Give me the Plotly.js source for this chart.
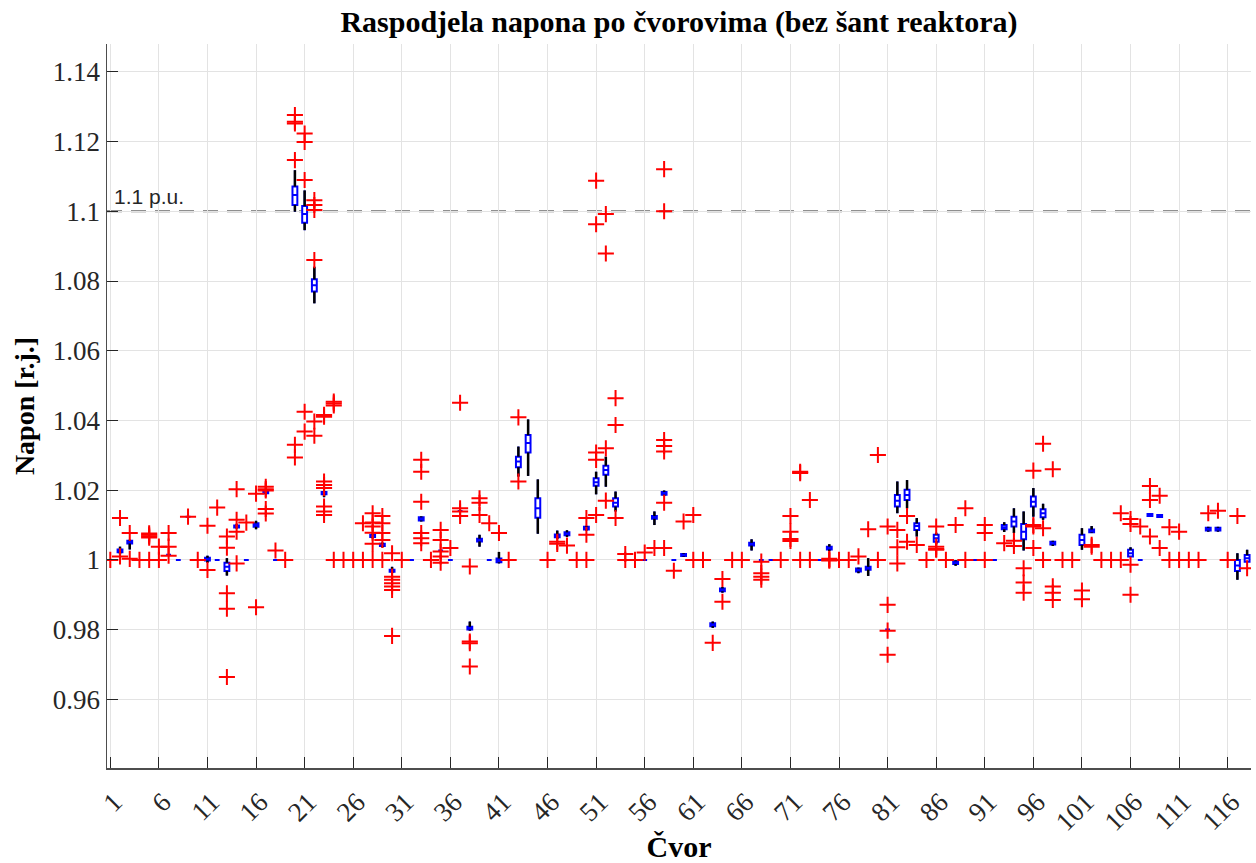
<!DOCTYPE html>
<html><head><meta charset="utf-8">
<script src="https://cdn.plot.ly/plotly-3.0.1.min.js"></script>
<style>html,body{margin:0;padding:0;background:#fff}</style>
</head><body><div id="chart" style="width:1256px;height:863px"></div>
<script>
const nodes = [1,2,3,4,5,6,7,8,9,10,11,12,13,14,15,16,17,18,19,20,21,22,23,24,25,26,27,28,29,30,31,32,33,34,35,36,37,38,39,40,41,42,43,44,45,46,47,48,49,50,51,52,53,54,55,56,57,58,59,60,61,62,63,64,65,66,67,68,69,70,71,72,73,74,75,76,77,78,79,80,81,82,83,84,85,86,87,88,89,90,91,92,93,94,95,96,97,98,99,100,101,102,103,104,105,106,107,108,109,110,111,112,113,114,115,116,117,118];

const q1 = [1,1.0022,1.0047,1,1,1,1.0015,1,1.0124,1,
0.9998,1,0.9968,1.0093,1,1.0095,1.0191,1,1,1.1018,
1.0967,1.077,1.0188,1,1,1,1,1.0066,1.004,0.9966,
1,1,1.0113,1,1.0027,1,1.014,0.98,1.0053,1,
0.9993,1,1.0266,1.0308,1.0121,1,1.0065,1.0071,1,1.0087,
1.0213,1.0244,1.0153,1,1,1,1.0118,1.0187,1,1.0011,
1,1,0.981,0.991,1,1,1.0041,1,1,1,
1.0057,1,1,1,1.003,1,1,0.9967,0.9972,1,
0.98,1.0153,1.0172,1.0086,1,1.0052,1,0.9988,1,1,
1,1,1.0088,1.0096,1.0059,1.0153,1.0122,1.0044,1,1,
1.0043,1.0079,1,1,1,1.001,1,1.0126,1.0123,1,
1,1,1,1.0084,1.0084,1,0.9968,0.9995];

const median = [1,1.0026,1.0051,1,1,1,1.0015,1,1.0124,1,
1.0002,1,0.998,1.0096,1,1.01,1.0194,1,1,1.1047,
1.0992,1.0788,1.0191,1,1,1,1,1.0069,1.0043,0.9969,
1,1,1.0118,1,1.0027,1,1.014,0.9804,1.0057,1,
0.9998,1,1.0282,1.0335,1.0148,1,1.0069,1.0075,1,1.0091,
1.0223,1.0258,1.0164,1,1,1,1.0122,1.0191,1,1.0014,
1,1,0.9814,0.9914,1,1,1.0045,1,1,1,
1.0057,1,1,1,1.0034,1,1,0.9971,0.9976,1,
0.98,1.017,1.0186,1.0097,1,1.0062,1,0.9992,1,1,
1,1,1.0094,1.011,1.0081,1.0167,1.0134,1.0048,1,1,
1.0057,1.0083,1,1,1,1.0019,1,1.0129,1.0126,1,
1,1,1,1.0088,1.0088,1,0.9984,1.0005];

const q3 = [1,1.003,1.0055,1,1,1,1.0015,1,1.0124,1,
1.0006,1,0.9992,1.0099,1,1.0105,1.0197,1,1,1.1071,
1.1015,1.0805,1.0195,1,1,1,1,1.0072,1.0046,0.9972,
1,1,1.0122,1,1.0027,1,1.014,0.9808,1.0061,1,
1.0004,1,1.0296,1.0358,1.0177,1,1.0073,1.0079,1,1.0095,
1.0234,1.027,1.0177,1,1,1,1.0126,1.0195,1,1.0017,
1,1,0.9818,0.9918,1,1,1.0049,1,1,1,
1.0057,1,1,1,1.0038,1,1,0.9975,0.998,1,
0.98,1.0186,1.0201,1.0105,1,1.0072,1,0.9996,1,1,
1,1,1.01,1.0124,1.0103,1.0182,1.0145,1.0052,1,1,
1.0072,1.0087,1,1,1,1.0029,1,1.0132,1.0129,1,
1,1,1,1.0092,1.0092,1,1.0,1.0014];

const whiskerLow = [1,1.0016,1.003,1,1,1,1.0015,1,1.0124,1,
0.9992,1,0.9955,1.009,1,1.0088,1.0188,1,1,1.0999,
1.0946,1.0736,1.018,1,1,1,1,1.0062,1.0036,0.9962,
1,1,1.011,1,1.0027,1,1.014,0.9797,1.0038,1,
0.999,1,1.0239,1.0241,1.0075,1,1.006,1.0066,1,1.0084,
1.0188,1.021,1.0139,1,1,1,1.01,1.0183,1,1.0009,
1,1,0.9805,0.9906,1,1,1.0027,1,1,1,
1.0057,1,1,1,1.0025,1,1,0.9962,0.9954,1,
0.98,1.0134,1.0148,1.0067,1,1.0045,1,0.9983,1,1,
1,1,1.008,1.0077,1.0027,1.0124,1.0115,1.004,1,1,
1.0029,1.0077,1,1,1,1.001,1,1.0126,1.0123,1,
1,1,1,1.0081,1.0081,1,0.9943,0.9995];

const whiskerHigh = [1,1.0038,1.0058,1,1,1,1.0015,1,1.0124,1,
1.0012,1,1.0005,1.0102,1,1.0112,1.02,1,1,1.1118,
1.106,1.0841,1.0198,1,1,1,1,1.0076,1.005,0.998,
1,1,1.0125,1,1.0027,1,1.014,0.9823,1.0072,1,
1.0023,1,1.0325,1.0403,1.0231,1,1.0084,1.0085,1,1.0098,
1.0253,1.0296,1.0196,1,1,1,1.0139,1.0199,1,1.0019,
1,1,0.9823,0.9922,1,1,1.0059,1,1,1,
1.0057,1,1,1,1.0045,1,1,0.9978,1.0005,1,
0.98,1.0225,1.0229,1.012,1,1.0078,1,0.9999,1,1,
1,1,1.0108,1.0148,1.0139,1.0206,1.0161,1.0055,1,1,
1.0091,1.0097,1,1,1,1.0036,1,1.0132,1.0129,1,
1,1,1,1.0095,1.0095,1,1.0019,1.0029];

const outliers = [
[1.0],[1.012,1.001],[1.0077,1.0003],[1.0],[1.0076,1.0072,1.0068,1.0064,1.0],
[1.0038,1.0],[1.0077,1.0038,1.0012],[],[1.0124],[1.0],
[1.0098,0.9971],[1.015],[1.0067,1.0035,0.9904,0.986,0.9664],[1.0203,1.0115,1.0081,0.999],[1.0107],
[1.019,0.9864],[1.021,1.0203,1.0199,1.0146,1.0133],[1.0027],[1.0],[1.1276,1.1257,1.1252,1.1147,1.033,1.0294],
[1.1223,1.1199,1.109,1.0425,1.0368],[1.1032,1.1018,1.1004,1.086,1.0397,1.0356],[1.0416,1.0411,1.0225,1.0215,1.0206,1.0153,1.0139,1.0129],[1.0454,1.0449,1.0443,1.0],[1.0],
[1.0],[1.0105,1.0],[1.0134,1.0107,1.0096,1.0078,1.0046,1.0],[1.0126,1.0105,1.0077,1.0057,1.0],[1.0019,0.9952,0.9943,0.9933,0.9924,0.9914,0.9782],
[1.0],[],[1.0287,1.0253,1.0167,1.0077,1.0062,1.0048],[1.0],[1.0086,1.0057,1.0024,1.001,0.9992],
[1.0034],[1.0451,1.0148,1.0139,1.0126],[0.9981,0.9766,0.9761,0.9694],[1.0177,1.0164,1.0129],[1.0105],
[1.0077],[1.0],[1.0409,1.0225],[],[],
[1.0],[1.0052,1.0046],[1.0041],[1.0],[1.012,1.0072,1.0],
[1.1088,1.0963,1.0308,1.0287,1.0129],[1.0992,1.0879,1.032,1.017],[1.0464,1.0387,1.012],[1.0017,1.0],[1.0],
[1.0021],[1.0034],[1.1121,1.1,1.0344,1.0327,1.0311,1.0164,1.0034],[0.9969],[1.011],
[1.0129,1.0],[1.0],[0.9762],[0.9945,0.988],[1.0],
[1.0],[],[0.9995,0.9962,0.9952,0.9943],[],[1.0],
[1.0126,1.0081,1.006,1.0054],[1.0253,1.0249,1.0],[1.0172,1.0],[],[1.0003,1.0,0.9998],
[1.0],[1.0],[1.001],[1.0088],[1.0301,1.0],
[1.0096,0.9871,0.9797,0.9728],[1.0086,1.0036,0.999],[1.0126,1.0052],[1.0043],[1.0],
[1.0096,1.0038,1.0031,1.0029],[1.0],[1.01],[1.0148,1.0],[],
[1.01,1.0077,1.0],[],[1.0048],[1.0055,1.004],[0.9976,0.9935,0.9906],
[1.0256,1.01,1.0096,1.0034],[1.0333,1.0091,1.0],[1.026,0.9924,0.9906,0.9885],[1.0],[1.0],
[0.9912,0.9887],[1.0043,1.0038],[1.0],[1.0],[1.0134,1.0],
[1.0117,1.0103,0.9986,0.99],[1.0096],[1.0212,1.0172,1.0067],[1.0184,1.0034],[1.0094,1.0],
[1.0081,1.0],[1.0],[1.0],[1.0134],[1.0141],
[1.0],[1.0126],[0.9976]
];

const xTickVals = [1,6,11,16,21,26,31,36,41,46,51,56,61,66,71,76,81,86,91,96,101,106,111,116];
const xTickText = ['1','6','11','16','21','26','31','36','41','46','51','56','61','66','71','76','81','86','91','96','101','106','111','116'];
const yTickVals = [0.96,0.98,1.0,1.02,1.04,1.06,1.08,1.1,1.12,1.14];
const yTickText = ['0.96','0.98','1','1.02','1.04','1.06','1.08','1.1','1.12','1.14'];
const limitValue = 1.1;
const limitLabel = '1.1 p.u.';

// whisker segments from the whisker ends to the box edges
const wx = [], wy = [];
nodes.forEach((n, i) => {
  if (whiskerLow[i] < q1[i]) { wx.push(n, n, null); wy.push(whiskerLow[i], q1[i], null); }
  if (whiskerHigh[i] > q3[i]) { wx.push(n, n, null); wy.push(q3[i], whiskerHigh[i], null); }
});
const ox = [], oy = [];
nodes.forEach((n, i) => outliers[i].forEach(v => { ox.push(n); oy.push(v); }));

const serif = 'Liberation Serif, Times New Roman, serif';
const traces = [
  {type:'box', orientation:'v', x:nodes, q1:q1, median:median, q3:q3,
   lowerfence:whiskerLow, upperfence:whiskerHigh, boxpoints:false,
   width:0.5, whiskerwidth:0, line:{color:'#0000ff', width:2}, fillcolor:'#ffffff',
   hoverinfo:'skip', showlegend:false},
  {type:'scatter', mode:'lines', x:wx, y:wy, line:{color:'#000000', width:2.5},
   hoverinfo:'skip', showlegend:false},
  {type:'scatter', mode:'markers', x:ox, y:oy,
   marker:{symbol:'cross-thin', size:11.5, color:'#ff0000', line:{color:'#ff0000', width:2}},
   hoverinfo:'skip', showlegend:false}
];

const layout = {
  width:1256, height:863,
  margin:{l:107, r:5, t:44, b:95},
  paper_bgcolor:'#ffffff', plot_bgcolor:'#ffffff',
  showlegend:false,
  font:{family:serif, color:'#262626'},
  title:{text:'<b>Raspodjela napona po čvorovima (bez šant reaktora)</b>',
         font:{family:serif, size:30, color:'#000000'},
         x:0.5, xref:'paper', xanchor:'center', y:0.975, yref:'container', yanchor:'middle'},
  xaxis:{range:[0.66,118.4], tickmode:'array', tickvals:xTickVals, ticktext:xTickText,
         tickangle:-45, ticks:'inside', ticklen:11, tickwidth:1, tickcolor:'#262626',
         ticklabelstandoff:6, ticklabelshift:4,
         showline:true, linecolor:'#4d4d4d', linewidth:1.5, mirror:false,
         showgrid:true, gridcolor:'#e3e3e3', gridwidth:1, zeroline:false,
         tickfont:{family:serif, size:27, color:'#262626'},
         title:{text:'<b>Čvor</b>', font:{family:serif, size:30, color:'#000000'}, standoff:4}},
  yaxis:{range:[0.9403,1.148], tickmode:'array', tickvals:yTickVals, ticktext:yTickText,
         ticks:'inside', ticklen:11, tickwidth:1, tickcolor:'#262626',
         showline:true, linecolor:'#4d4d4d', linewidth:1.5, mirror:false,
         showgrid:true, gridcolor:'#e3e3e3', gridwidth:1, zeroline:false,
         tickfont:{family:serif, size:27, color:'#262626'},
         title:{text:'<b>Napon [r.j.]</b>', font:{family:serif, size:28, color:'#000000'}, standoff:10}},
  shapes:[{type:'line', xref:'paper', x0:0, x1:1, yref:'y', y0:limitValue, y1:limitValue,
           line:{color:'#6b6b6b', width:2, dash:'15px,9px'}, layer:'below'}],
  annotations:[{text:limitLabel, xref:'paper', x:0, xshift:5, yref:'y', y:limitValue,
                xanchor:'left', yanchor:'bottom', yshift:1, showarrow:false,
                font:{family:'Liberation Sans, Arial, sans-serif', size:21, color:'#262626'}}]
};

Plotly.newPlot('chart', traces, layout, {displayModeBar:false, staticPlot:true});
</script>
</body></html>
